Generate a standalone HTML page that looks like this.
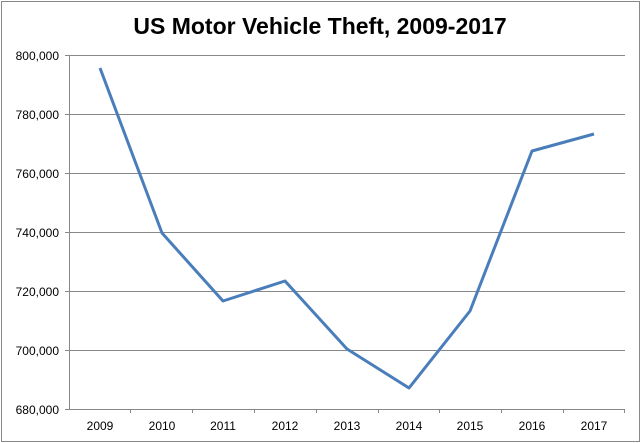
<!DOCTYPE html>
<html><head><meta charset="utf-8"><style>body{margin:0;background:#fff}svg{display:block}</style></head>
<body>
<svg width="641" height="443" xmlns="http://www.w3.org/2000/svg" font-family="Liberation Sans, Arial, sans-serif">
<rect x="1.5" y="1.5" width="638" height="440" fill="#fff" stroke="#888" stroke-width="1"/>
<text x="320" y="34" text-anchor="middle" font-size="23" font-weight="bold" fill="#000">US Motor Vehicle Theft, 2009-2017</text>
<g stroke="#888" stroke-width="1">
<line x1="69" y1="55.5" x2="625" y2="55.5"/>
<line x1="69" y1="114.5" x2="625" y2="114.5"/>
<line x1="69" y1="173.5" x2="625" y2="173.5"/>
<line x1="69" y1="232.5" x2="625" y2="232.5"/>
<line x1="69" y1="291.5" x2="625" y2="291.5"/>
<line x1="69" y1="350.5" x2="625" y2="350.5"/>
<line x1="69" y1="409.5" x2="625" y2="409.5"/>
<line x1="69.5" y1="55" x2="69.5" y2="409"/>
<line x1="65" y1="55.5" x2="69" y2="55.5"/><line x1="65" y1="114.5" x2="69" y2="114.5"/><line x1="65" y1="173.5" x2="69" y2="173.5"/><line x1="65" y1="232.5" x2="69" y2="232.5"/><line x1="65" y1="291.5" x2="69" y2="291.5"/><line x1="65" y1="350.5" x2="69" y2="350.5"/><line x1="65" y1="409.5" x2="69" y2="409.5"/>
<line x1="130.5" y1="409" x2="130.5" y2="413"/><line x1="192.5" y1="409" x2="192.5" y2="413"/><line x1="254.5" y1="409" x2="254.5" y2="413"/><line x1="316.5" y1="409" x2="316.5" y2="413"/><line x1="378.5" y1="409" x2="378.5" y2="413"/><line x1="439.5" y1="409" x2="439.5" y2="413"/><line x1="501.5" y1="409" x2="501.5" y2="413"/><line x1="563.5" y1="409" x2="563.5" y2="413"/><line x1="624.5" y1="409" x2="624.5" y2="413"/>
</g>
<g font-size="12" fill="#000" text-anchor="end">
<text x="59" y="60">800,000</text><text x="59" y="119">780,000</text><text x="59" y="178">760,000</text><text x="59" y="237">740,000</text><text x="59" y="296">720,000</text><text x="59" y="355">700,000</text><text x="59" y="414">680,000</text>
</g>
<g font-size="12" fill="#000" text-anchor="middle">
<text x="100" y="430">2009</text><text x="162" y="430">2010</text><text x="223" y="430">2011</text><text x="285" y="430">2012</text><text x="347" y="430">2013</text><text x="409" y="430">2014</text><text x="470" y="430">2015</text><text x="532" y="430">2016</text><text x="594" y="430">2017</text>
</g>
<polyline fill="none" stroke="#4a7ebb" stroke-width="3" stroke-linejoin="round" points="100,68 162,233 223,301 285,281 347,349 409,388 470,311 532,151 594,134"/>
</svg>
</body></html>
